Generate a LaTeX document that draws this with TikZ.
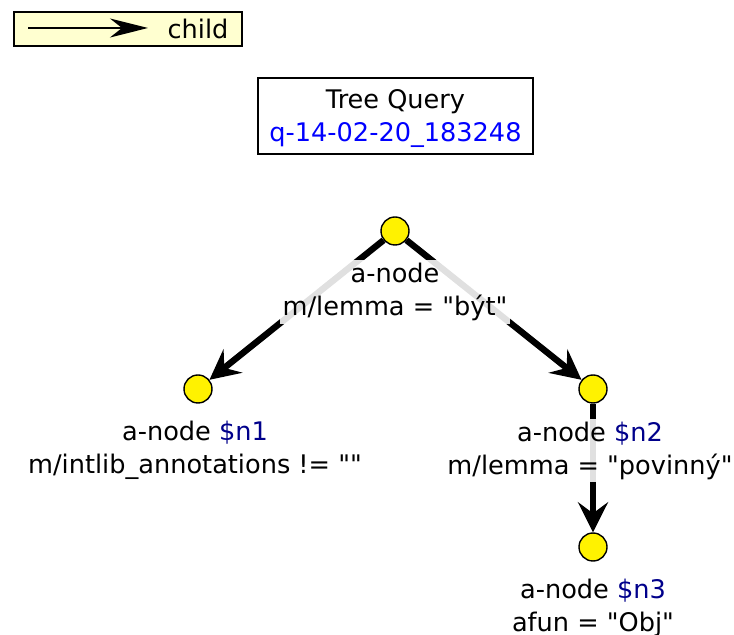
\documentclass[tikz,border=0pt]{standalone}
\usepackage{fontspec}
\setmainfont{DejaVu Sans}
\usetikzlibrary{arrows.meta}
\definecolor{legendfill}{RGB}{255,255,208}
\definecolor{varname}{RGB}{0,0,139}
\definecolor{queryid}{RGB}{0,0,255}
\tikzset{>=Stealth}
\newcommand{\qt}{\textquotedbl}

\begin{document}
\begin{tikzpicture}[x=0.5pt, y=-0.5pt,
  every node/.style={font=\fontsize{12.8}{16.5}\selectfont},
  anode/.style={circle, draw, fill=yellow, line width=0.7pt, minimum size=14pt, inner sep=0pt},
  lbl/.style={align=center, fill=white, fill opacity=0.88, text opacity=1, inner sep=1.5pt},
  childedge/.style={line width=3.2pt, -{Stealth[length=15pt, width=15pt, inset=5.5pt]}},
  legendarrow/.style={line width=1.1pt, -{Stealth[length=19pt, width=9.5pt, inset=6pt]}}]
\useasboundingbox (0,0) rectangle (734,635);

% legend
\node[draw, line width=0.8pt, fill=legendfill, minimum width=114pt, minimum height=17pt] (legend) at (128,29) {};
\coordinate (la) at (28,28);
\coordinate (lb) at (148,28);
\draw[legendarrow] (la) -- (lb);
\node (lchild) at (198,29) {child};

% title
\node[draw, line width=0.8pt, minimum width=137.5pt, minimum height=38pt] (title) at (395.5,116) {};
\node[align=center] (title-text) at (395.5,119) {Tree Query\\\textcolor{queryid}{q-14-02-20\_183248}};

% nodes
\node[anode] (root) at (395,231) {};
\node[anode] (n1) at (198,389) {};
\node[anode] (n2) at (593,389) {};
\node[anode] (n3) at (593,547) {};

% edges
\draw[childedge] (root) -- (n1);
\draw[childedge] (root) -- (n2);
\draw[childedge] (n2) -- (n3);

% labels
\node[lbl] (root-lbl) at (395,292) {a-node\\m/lemma = \qt být\qt};
\node[lbl] (n1-lbl) at (195,450.5) {a-node \textcolor{varname}{\$n1}\\m/intlib\_annotations != \qt\qt};
\node[lbl] (n2-lbl) at (590,450.5) {a-node \textcolor{varname}{\$n2}\\m/lemma = \qt povinný\qt};
\node[lbl] (n3-lbl) at (593,607.5) {a-node \textcolor{varname}{\$n3}\\afun = \qt Obj\qt};
\end{tikzpicture}
\end{document}
